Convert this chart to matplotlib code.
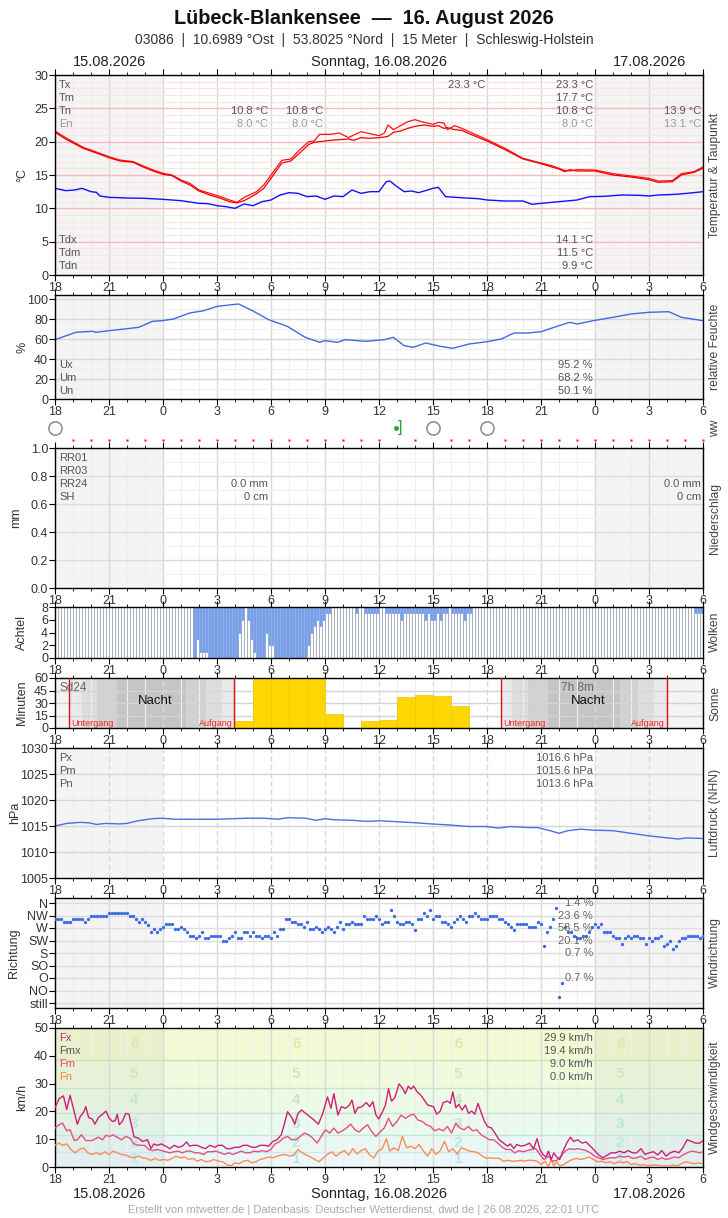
import numpy as np
import matplotlib.pyplot as plt
from matplotlib.ticker import MultipleLocator

plt.rcParams['font.family'] = ['Liberation Sans Narrow', 'Liberation Sans', 'DejaVu Sans']

W, H = 728, 1218

# x axis: hours since 15.08. 18:00 UTC
hour_labels = ['18', '21', '0', '3', '6', '9', '12', '15', '18', '21', '0', '3', '6']
day_shade = [(0, 6), (30, 36)]

# temperature (two red lines) and dew point
t_h = [0, 0.65, 1.57, 2.5, 3.0, 3.6, 4.35, 4.9, 5.46, 6.0, 6.5, 7.0, 7.5, 8.0, 8.6, 9.2, 9.7,
       10.1, 10.55, 11.2, 11.6, 12.0, 12.6, 13.1, 13.6, 14.1, 14.4, 14.7, 15.3, 15.8, 16.3, 16.6,
       17.0, 17.5, 18.0, 18.3, 18.5, 18.8, 19.2, 19.6, 20.0, 20.5, 21.0, 21.3, 21.6, 21.8, 22.2,
       22.6, 23.0, 24.0, 25.0, 26.0, 27.0, 27.6, 28.0, 28.3, 28.6, 29.0, 30.0, 31.0, 32.0, 33.0,
       33.5, 34.3, 34.8, 35.5, 36.0]
temp_a = [21.6, 20.5, 19.15, 18.25, 17.75, 17.25, 17.0, 16.35, 15.75, 15.25, 15.0, 14.25, 13.75,
          12.75, 12.25, 11.75, 11.25, 10.9, 11.7, 12.5, 13.5, 15.0, 17.2, 17.4, 18.8, 20.0, 20.1,
          21.1, 21.1, 21.3, 20.6, 21.0, 21.5, 21.2, 20.9, 21.3, 22.5, 21.8, 22.4, 23.0, 23.3, 22.9,
          22.6, 22.9, 22.8, 21.8, 22.4, 22.0, 21.5, 20.3, 19.0, 17.5, 16.8, 16.4, 16.0, 15.7, 15.6,
          15.8, 15.75, 15.2, 14.85, 14.5, 14.1, 14.15, 15.2, 15.5, 16.2]
temp_b = [21.4, 20.3, 19.0, 18.1, 17.6, 17.1, 16.9, 16.2, 15.6, 15.1, 14.9, 14.1, 13.5, 12.6,
          12.0, 11.5, 11.0, 10.8, 11.2, 12.2, 13.0, 14.5, 16.8, 17.1, 18.3, 19.6, 19.9, 20.0, 20.2,
          20.3, 20.4, 20.2, 20.6, 20.5, 20.6, 20.7, 20.8, 21.4, 21.6, 22.0, 22.3, 22.5, 22.3, 22.4,
          22.0, 22.1, 21.8, 21.7, 21.2, 20.1, 18.8, 17.4, 16.7, 16.2, 15.9, 15.5, 15.8, 15.6, 15.6,
          15.0, 14.7, 14.3, 13.9, 14.0, 15.0, 15.4, 16.0]
dew_h = [0, 0.6, 1.1, 1.5, 2.0, 2.3, 2.5, 3.0, 4.0, 5.0, 6.0, 7.0, 8.0, 8.5, 9.0, 9.5, 10.0, 10.5,
         11.0, 11.5, 12.0, 12.5, 13.0, 13.5, 14.0, 14.5, 15.0, 15.5, 16.0, 16.5, 17.0, 17.5, 18.0,
         18.4, 18.6, 19.0, 19.4, 19.8, 20.2, 20.7, 21.0, 21.3, 21.7, 22.5, 23.5, 24.0, 25.0, 26.0,
         26.5, 27.0, 28.0, 29.0, 29.7, 30.5, 31.5, 32.5, 33.0, 33.5, 34.5, 35.5, 36.0]
dew = [13.0, 12.65, 12.75, 13.0, 12.5, 12.4, 11.85, 11.65, 11.55, 11.5, 11.35, 11.15, 10.75, 10.7,
       10.4, 10.25, 10.0, 10.65, 10.4, 11.0, 11.25, 12.0, 12.35, 12.25, 11.75, 11.85, 11.35, 11.85,
       11.75, 12.75, 12.25, 12.5, 12.5, 14.0, 14.1, 13.25, 12.5, 12.6, 12.35, 12.75, 13.0, 13.15,
       11.75, 11.6, 11.45, 11.25, 11.1, 11.1, 10.6, 10.75, 11.0, 11.25, 11.75, 11.8, 12.0, 11.95,
       11.85, 12.0, 12.1, 12.35, 12.5]

# relative humidity
hum_h = [0, 1.16, 2.06, 2.3, 2.97, 3.87, 4.65, 5.42, 5.94, 6.58, 7.48, 8.26, 9.03, 10.2, 10.97,
         11.87, 12.9, 13.9, 14.7, 15.0, 15.7, 16.1, 17.3, 18.3, 18.8, 19.4, 19.9, 20.6, 21.4, 22.1,
         23.0, 24.0, 24.8, 25.5, 26.3, 27.0, 27.9, 28.6, 29.0, 29.9, 31.0, 32.0, 33.0, 34.1, 34.8, 36.0]
hum = [59.3, 66.7, 67.7, 66.7, 68.3, 70.0, 71.7, 77.7, 78.3, 80.0, 86.0, 88.3, 92.7, 95.0, 88.3,
       79.3, 72.7, 61.7, 56.7, 58.3, 56.7, 59.3, 57.7, 59.3, 61.7, 53.3, 51.7, 56.0, 52.7, 50.7,
       55.0, 57.3, 60.0, 66.0, 66.0, 67.3, 72.7, 76.7, 75.0, 78.3, 81.7, 85.0, 86.7, 87.3, 81.7, 78.3]

# ww row
ww_circle_h = [0, 21, 24]
ww_shower_h = [19]

# cloud cover (octas), every 10 minutes
cloud = [0, 0, 0, 0, 0, 0, 0, 0, 0, 0, 0, 0,
         0, 0, 0, 0, 0, 0, 0, 0, 0, 0, 0, 0,
         0, 0, 0, 0, 0, 0, 0, 0, 0, 0, 0, 0,
         0, 0, 0, 0, 0, 0, 0, 0, 0, 0, 8, 5,
         7, 7, 7, 8, 8, 8, 8, 8, 8, 8, 8, 8,
         8, 4, 2, 0, 2, 5, 7, 8, 8, 8, 4, 6,
         6, 8, 8, 8, 8, 8, 8, 8, 8, 8, 8, 8,
         6, 4, 3, 2, 3, 2, 1, 1, 0, 0, 0, 0,
         0, 0, 0, 0, 1, 0, 0, 1, 1, 1, 1, 1,
         0, 0, 1, 1, 1, 1, 1, 2, 1, 1, 1, 1,
         1, 1, 1, 2, 1, 2, 2, 1, 2, 1, 1, 0,
         1, 1, 1, 1, 2, 1, 1, 0, 0, 0, 0, 0,
         0, 0, 0, 0, 0, 0, 0, 0, 0, 0, 0, 0,
         0, 0, 0, 0, 0, 0, 0, 0, 0, 0, 0, 0,
         0, 0, 0, 0, 0, 0, 0, 0, 0, 0, 0, 0,
         0, 0, 0, 0, 0, 0, 0, 0, 0, 0, 0, 0,
         0, 0, 0, 0, 0, 0, 0, 0, 0, 0, 0, 0,
         0, 0, 0, 0, 0, 0, 0, 0, 0, 1, 1, 1]

# sunshine minutes per hour
sun_h = [10, 11, 12, 13, 14, 15, 16, 17, 18, 19, 20, 21, 22]
sun_min = [8, 60, 60, 60, 60, 17, 0, 9, 10, 37, 40, 39, 27]
night1 = [0.8, 1.5, 2.35, 3.43, 7.28, 8.4, 9.26, 9.96]
night2 = [24.8, 25.4, 26.3, 27.4, 31.4, 32.4, 33.3, 34.0]
night_grays = ['#e9e9e9', '#dddddd', '#d1d1d1', '#c5c5c5', '#d1d1d1', '#dddddd', '#e9e9e9']

# pressure
p_h = [0, 0.65, 1.4, 1.9, 2.3, 2.8, 3.6, 4.0, 4.6, 5.4, 5.9, 6.7, 8.0, 9.0, 9.8, 10.8, 11.6, 12.4,
       12.9, 13.9, 14.5, 15.0, 15.5, 16.5, 17.3, 18.1, 19.1, 20.1, 20.9, 21.9, 23.0, 24.0, 24.6,
       25.3, 26.3, 26.8, 27.5, 28.0, 28.5, 29.2, 29.9, 31.0, 32.0, 33.0, 33.8, 34.6, 35.1, 36.0]
pres = [1015.0, 1015.5, 1015.7, 1015.6, 1015.3, 1015.5, 1015.4, 1015.5, 1016.0, 1016.4, 1016.5,
        1016.3, 1016.3, 1016.3, 1016.4, 1016.5, 1016.5, 1016.3, 1016.6, 1016.5, 1016.1, 1016.4,
        1016.2, 1016.1, 1015.9, 1016.0, 1015.8, 1015.6, 1015.4, 1015.2, 1014.9, 1014.9, 1014.6,
        1014.9, 1014.7, 1014.7, 1014.1, 1013.6, 1014.1, 1014.4, 1014.2, 1014.1, 1013.6, 1013.1,
        1012.8, 1012.5, 1012.7, 1012.6]

# wind direction (degrees), every 10 minutes
wind_dir = [304, 304, 304, 293, 293, 293, 304, 304, 304, 304, 293, 304,
            314, 314, 314, 314, 314, 314, 325, 325, 325, 325, 325, 325,
            325, 314, 314, 304, 293, 304, 293, 282, 254, 265, 254, 265,
            275, 283, 283, 283, 265, 265, 274, 265, 254, 243, 243, 233,
            243, 254, 233, 233, 243, 243, 243, 243, 224, 224, 233, 243,
            254, 233, 233, 254, 254, 243, 254, 243, 243, 233, 243, 243,
            233, 254, 243, 265, 265, 304, 304, 293, 293, 283, 283, 274,
            293, 265, 265, 274, 265, 254, 265, 274, 265, 254, 274, 293,
            265, 283, 283, 293, 283, 283, 283, 314, 304, 304, 304, 314, 304,
            283, 293, 293, 336, 314, 293, 283, 283, 293, 293, 283, 263,
            304, 304, 325, 314, 336, 304, 314, 314, 293, 293, 283, 274,
            293, 304, 314, 304, 293, 314, 314, 325, 314, 304, 304, 304,
            314, 314, 314, 304, 304, 293, 283, 274, 263, 283, 283, 283,
            283, 274, 274, 274, 293, 283, 204, 254, 274, 304, 343, 23,
            72, 274, 254, 254, 243, 233, 233, 243, 243, 254, 274, 283,
            274, 283, 254, 254, 254, 243, 233, 233, 214, 233, 243, 233,
            243, 243, 233, 233, 214, 233, 224, 233, 233, 243, 204, 214,
            224, 193, 204, 224, 233, 233, 243, 243, 243, 243, 233, 243]
dir_ticks = [360, 315, 270, 225, 180, 135, 90, 45, 0]
dir_labels = ['N', 'NW', 'W', 'SW', 'S', 'SO', 'O', 'NO', 'still']

# wind speed km/h
fx_h = [0.00, 0.23, 0.47, 0.65, 0.84, 1.07, 1.24, 1.40, 1.59, 1.71,
        1.87, 2.06, 2.22, 2.41, 2.64, 2.83, 2.99, 3.18, 3.34, 3.46,
        3.57, 3.74, 3.93, 4.11, 4.28, 4.39, 4.63, 4.86, 5.14, 5.33,
        5.49, 5.68, 5.91, 6.14, 6.38, 6.61, 6.85, 7.08, 7.31, 7.48,
        7.66, 7.90, 8.13, 8.36, 8.60, 8.88, 9.07, 9.30, 9.53, 9.77,
        10.00, 10.23, 10.47, 10.70, 10.93, 11.17, 11.40, 11.64, 11.87, 12.10,
        12.34, 12.57, 12.73, 12.92, 13.15, 13.32, 13.50, 13.69, 13.93, 14.16,
        14.39, 14.63, 14.86, 15.02, 15.14, 15.33, 15.49, 15.72, 15.91, 16.14,
        16.36, 16.50, 16.66, 16.82, 17.06, 17.29, 17.48, 17.66, 17.83, 17.99,
        18.18, 18.36, 18.53, 18.69, 18.88, 19.11, 19.30, 19.46, 19.63, 19.77,
        19.93, 20.12, 20.33, 20.51, 20.70, 20.86, 21.03, 21.21, 21.40, 21.57,
        21.80, 21.96, 22.10, 22.27, 22.43, 22.62, 22.80, 22.97, 23.15, 23.32,
        23.50, 23.67, 23.86, 24.02, 24.25, 24.44, 24.67, 24.91, 25.14, 25.30,
        25.49, 25.65, 25.89, 26.12, 26.36, 26.59, 26.78, 26.94, 27.10, 27.29,
        27.41, 27.57, 27.71, 27.87, 28.04, 28.22, 28.46, 28.64, 28.81, 29.04,
        29.28, 29.51, 29.74, 29.98, 30.21, 30.44, 30.68, 30.91, 31.14, 31.38,
        31.61, 31.85, 32.08, 32.31, 32.55, 32.78, 33.01, 33.25, 33.48, 33.71,
        33.95, 34.18, 34.42, 34.65, 34.88, 35.12, 35.35, 35.58, 35.82, 36.00]
fx = [21.3, 24.6, 25.6, 20.7, 25.8, 19.9, 15.4, 18.1, 19.7, 21.7,
      17.8, 17.3, 15.4, 17.8, 19.0, 20.1, 17.8, 16.4, 16.6, 19.0,
      15.2, 16.4, 19.3, 19.0, 14.0, 10.9, 10.4, 9.2, 9.8, 6.6,
      8.3, 7.8, 8.3, 7.5, 6.6, 7.8, 7.1, 7.5, 9.0, 7.5,
      7.8, 7.8, 7.1, 6.6, 7.8, 7.1, 7.8, 7.8, 6.6, 6.6,
      7.1, 7.1, 7.8, 7.8, 7.1, 7.1, 7.8, 7.8, 7.5, 9.2,
      9.8, 11.6, 15.2, 19.9, 17.8, 15.4, 19.3, 20.5, 19.3, 18.1,
      16.9, 15.4, 19.0, 22.5, 25.2, 21.1, 26.4, 18.7, 21.7, 21.1,
      22.3, 24.1, 19.3, 21.3, 21.7, 23.2, 21.7, 23.5, 18.7, 17.3,
      19.7, 22.3, 28.2, 23.7, 24.9, 29.9, 28.4, 26.4, 29.1, 28.0,
      29.1, 27.0, 25.8, 24.1, 22.3, 22.0, 21.7, 19.0, 20.1, 23.2,
      23.7, 22.9, 27.0, 21.3, 22.5, 20.5, 22.3, 19.3, 20.1, 19.0,
      22.9, 19.7, 16.4, 14.6, 14.0, 12.2, 9.8, 8.6, 7.5, 8.3,
      6.6, 8.1, 7.5, 7.8, 8.6, 6.6, 10.2, 6.3, 4.5, 3.6,
      5.7, 2.7, 5.1, 3.6, 2.7, 5.7, 9.0, 10.7, 9.2, 9.8,
      8.6, 9.0, 7.5, 5.9, 4.3, 3.3, 4.3, 5.1, 5.1, 5.7,
      5.1, 5.9, 5.1, 5.1, 6.6, 4.5, 5.1, 5.5, 4.3, 5.9,
      3.9, 5.1, 5.7, 5.1, 6.9, 9.8, 9.2, 8.6, 8.6, 9.5]
fm_h = [0.00, 0.23, 0.42, 0.65, 0.84, 1.07, 1.24, 1.47, 1.71, 2.06,
        2.41, 2.64, 2.83, 3.04, 3.22, 3.46, 3.69, 3.93, 4.16, 4.39,
        4.67, 4.98, 5.21, 5.44, 5.68, 5.91, 6.14, 6.38, 6.61, 6.85,
        7.08, 7.31, 7.55, 7.78, 8.01, 8.25, 8.48, 8.71, 8.95, 9.18,
        9.42, 9.65, 9.88, 10.12, 10.35, 10.58, 10.82, 11.05, 11.29, 11.52,
        11.75, 11.99, 12.22, 12.45, 12.69, 12.92, 13.15, 13.39, 13.62, 13.86,
        14.09, 14.32, 14.56, 14.79, 15.02, 15.26, 15.49, 15.72, 15.96, 16.19,
        16.43, 16.66, 16.89, 17.13, 17.36, 17.59, 17.83, 18.06, 18.29, 18.53,
        18.76, 19.00, 19.23, 19.46, 19.70, 19.93, 20.16, 20.40, 20.63, 20.86,
        21.10, 21.33, 21.57, 21.80, 22.03, 22.27, 22.50, 22.73, 22.97, 23.20,
        23.43, 23.67, 23.90, 24.14, 24.37, 24.60, 24.84, 25.07, 25.30, 25.54,
        25.77, 26.00, 26.24, 26.47, 26.71, 26.94, 27.17, 27.41, 27.64, 27.87,
        28.11, 28.34, 28.57, 28.81, 29.04, 29.28, 29.51, 29.74, 29.98, 30.21,
        30.44, 30.68, 30.91, 31.14, 31.38, 31.61, 31.85, 32.08, 32.31, 32.55,
        32.78, 33.01, 33.25, 33.48, 33.71, 33.95, 34.18, 34.42, 34.65, 34.88,
        35.12, 35.35, 35.58, 35.82, 36.00]
fm = [14.0, 15.2, 15.8, 13.0, 13.4, 9.5, 9.8, 11.6, 9.5, 9.5,
      10.7, 9.8, 11.4, 11.0, 11.6, 10.7, 9.8, 11.0, 10.4, 8.3,
      7.8, 7.8, 6.3, 5.9, 6.3, 5.9, 5.5, 5.1, 5.5, 5.7,
      5.1, 5.7, 5.7, 5.1, 5.1, 4.5, 5.5, 5.5, 5.7, 5.1,
      4.5, 5.1, 4.5, 5.1, 5.7, 5.1, 5.1, 5.7, 5.5, 5.9,
      5.5, 6.3, 8.3, 9.0, 10.4, 11.0, 9.8, 9.8, 11.0, 12.2,
      11.6, 10.4, 8.6, 11.0, 13.4, 12.2, 14.0, 12.2, 13.0, 14.0,
      15.4, 13.4, 12.6, 14.0, 15.2, 12.8, 11.0, 12.6, 14.0, 17.5,
      14.6, 16.4, 18.7, 17.5, 18.5, 19.0, 16.9, 16.4, 15.2, 14.6,
      13.0, 13.7, 13.0, 14.6, 12.2, 15.8, 14.0, 13.4, 14.6, 13.0,
      13.4, 11.6, 10.7, 9.8, 9.8, 8.6, 7.1, 6.3, 6.3, 5.1,
      5.9, 5.5, 5.9, 6.3, 6.6, 4.5, 2.7, 3.9, 2.1, 2.4,
      3.9, 5.7, 6.6, 6.3, 6.6, 6.3, 5.9, 5.1, 3.9, 3.3,
      2.7, 3.1, 3.3, 3.3, 3.9, 3.6, 3.9, 3.1, 3.3, 3.9,
      2.7, 3.3, 3.6, 2.7, 3.3, 2.7, 3.1, 3.6, 3.3, 4.3,
      5.1, 5.7, 5.5, 5.1, 5.5]
fn_h = [0.00, 0.23, 0.42,
        0.65, 0.89, 1.12, 1.36, 1.59, 1.82, 2.06, 2.29, 2.52, 2.76,
        2.99, 3.22, 3.46, 3.69, 3.93, 4.16, 4.39, 4.63, 4.86, 5.09,
        5.33, 5.56, 5.79, 6.03, 6.26, 6.50, 6.73, 6.96, 7.20, 7.43,
        7.66, 7.90, 8.13, 8.36, 8.60, 8.83, 9.07, 9.30, 9.53, 9.77,
        10.00, 10.23, 10.47, 10.70, 10.93, 11.17, 11.40, 11.64, 11.87, 12.10,
        12.34, 12.57, 12.80, 13.04, 13.27, 13.50, 13.74, 13.97, 14.21, 14.44,
        14.67, 14.91, 15.14, 15.37, 15.61, 15.84, 16.07, 16.31, 16.54, 16.78,
        17.01, 17.24, 17.48, 17.71, 17.94, 18.18, 18.41,
        18.60, 18.83, 19.07, 19.30, 19.53, 19.77, 20.00, 20.23, 20.47, 20.70,
        20.93, 21.17, 21.40, 21.64, 21.87, 22.10, 22.34, 22.57, 22.80, 23.04,
        23.27, 23.50, 23.74, 23.97, 24.21, 24.44, 24.67, 24.91, 25.14, 25.37,
        25.61, 25.84, 26.07, 26.31, 26.54, 26.78, 27.01, 27.24,
        27.41, 27.57, 27.71, 27.87, 28.04,
        28.27, 28.50, 28.74, 28.97, 29.21, 29.44, 29.67, 29.91, 30.14, 30.37,
        30.61, 30.84, 31.07, 31.31, 31.54, 31.78, 32.01, 32.24, 32.48, 32.71,
        32.94, 33.18, 33.41, 33.64, 33.88, 34.11, 34.35, 34.58, 34.81, 35.05,
        35.28, 35.51, 35.75,
        36.00]
fn = [7.8, 8.6, 7.8,
      8.3, 6.3, 5.1, 6.3, 6.9, 5.1, 4.5, 5.1, 4.5, 5.5,
      4.5, 5.7, 5.1, 4.5, 4.3, 3.6, 3.3, 3.9, 3.3, 3.1,
      2.4, 3.1, 2.4, 2.7, 2.4, 3.1, 3.9, 3.3, 3.6, 2.7,
      3.1, 2.1, 2.7, 1.9, 2.1, 2.7, 2.1, 1.9, 0.9, 0.4,
      1.5, 1.2, 2.1, 2.4, 1.5, 1.9, 2.7, 3.1, 3.6, 3.3,
      3.9, 4.3, 4.5, 3.9, 4.3, 6.3, 5.1, 4.3, 3.6, 2.7,
      1.9, 3.3, 4.5, 5.5, 3.9, 5.1, 5.9, 4.3, 6.6, 4.7,
      5.9, 6.6, 4.3, 3.3, 5.7, 6.6, 10.2,
      5.7, 6.9, 5.9, 11.0, 6.9, 7.5, 6.6, 8.1, 5.7, 3.9,
      6.6, 4.5, 5.9, 9.2, 5.5, 6.6, 4.7, 6.9, 6.3, 5.7,
      5.5, 5.1, 3.9, 3.1, 3.3, 3.1, 3.1, 2.1, 2.4, 2.1,
      2.1, 2.4, 2.1, 2.4, 2.4, 2.1, 0.9, 2.1,
      0.0, 2.7, 0.4, 1.9, 0.4,
      0.9, 1.9, 2.7, 3.1, 2.7, 3.1, 3.6, 2.7, 1.9, 2.1,
      1.5, 1.9, 1.2, 1.9, 1.5, 1.9, 0.9, 1.2, 0.7, 0.9,
      0.4, 0.7, 0.7, 0.4, 0.4, 0.4, 0.7, 0.4, 1.2, 1.9,
      1.5, 1.2, 1.5,
      1.2]
bft_edges = [0, 0.5, 5.5, 11.5, 19.5, 28.5, 38.5, 50]
bft_fill = ['#eef6f9', '#ecf7f9', '#eaf8f4', '#ebf9ee', '#edfae6', '#f0fadd', '#f2fad3']
bft_line = ['#c9e9ef', '#bfe6e6', '#c2e6cf', '#c8e3c6', '#cddfba']
bft_text = ['#b9e6ee', '#b9e8df', '#bde8d0', '#c3e8c3', '#cfe9b8', '#dbe8b0']
bft_label_h = [4.4, 13.4, 22.4, 31.4]

fig = plt.figure(figsize=(W / 100, H / 100), dpi=100)


def panel(top, bottom):
    return fig.add_axes([55 / W, 1 - bottom / H, 648 / W, (bottom - top) / H])


def ftext(x, y, s, **kw):
    kw.setdefault('va', 'center')
    kw.setdefault('fontsize', 8)
    kw.setdefault('color', '#555555')
    fig.text(x / W, 1 - y / H, s, **kw)


def base(ax, shade=True, vdash=False):
    ax.set_xlim(0, 36)
    ax.set_xticks(range(0, 37, 3))
    ax.set_xticklabels(hour_labels)
    ax.xaxis.set_minor_locator(MultipleLocator(1))
    ax.tick_params(axis='x', which='both', top=True, direction='out', labelsize=9,
                   labelcolor='#333333', pad=1)
    ax.tick_params(axis='x', which='major', length=4)
    ax.tick_params(axis='x', which='minor', length=2.5)
    ax.tick_params(axis='y', which='major', length=4, labelsize=9, labelcolor='#333333', pad=1)
    ax.tick_params(axis='y', which='minor', length=0)
    for sp in ax.spines.values():
        sp.set_linewidth(1)
    ax.set_axisbelow(True)
    ax.xaxis.grid(True, which='major', color='#d9d9d9', lw=1, ls=(0, (4, 2)) if vdash else '-')
    ax.xaxis.grid(True, which='minor', color='#efefef', lw=0.8)
    if shade:
        for a, b in day_shade:
            ax.axvspan(a, b, color='#f4f4f4', zorder=0, lw=0)


# ---------- temperature
ax = panel(75, 275)
base(ax)
ax.set_ylim(0, 30)
ax.set_yticks(range(0, 31, 5))
ax.yaxis.set_minor_locator(MultipleLocator(1))
ax.yaxis.grid(True, which='major', color='#f6bcbc', lw=1)
ax.yaxis.grid(True, which='minor', color='#fbe4e4', lw=0.8)
ax.plot(t_h, temp_a, color='#ff1010', lw=0.9)
ax.plot(t_h, temp_b, color='#ee0000', lw=0.9)
ax.plot(dew_h, dew, color='#1010ff', lw=1)
for y, s, c in [(85, 'Tx', '#555555'), (98, 'Tm', '#555555'), (111, 'Tn', '#555555'),
                (124, 'En', '#999999'), (240, 'Tdx', '#555555'), (253, 'Tdm', '#555555'),
                (266, 'Tdn', '#555555')]:
    ftext(59, y, s, color=c)
for x, y, s, c in [(268, 111, '10.8 °C', '#555555'), (268, 124, '8.0 °C', '#999999'),
                   (323, 111, '10.8 °C', '#555555'), (323, 124, '8.0 °C', '#999999'),
                   (485, 85, '23.3 °C', '#555555'),
                   (593, 85, '23.3 °C', '#555555'), (593, 98, '17.7 °C', '#555555'),
                   (593, 111, '10.8 °C', '#555555'), (593, 124, '8.0 °C', '#999999'),
                   (701, 111, '13.9 °C', '#555555'), (701, 124, '13.1 °C', '#999999'),
                   (593, 240, '14.1 °C', '#555555'), (593, 253, '11.5 °C', '#555555'),
                   (593, 266, '9.9 °C', '#555555')]:
    ftext(x, y, s, color=c, ha='right')

# ---------- humidity
ax = panel(295, 399)
base(ax)
ax.set_ylim(0, 104)
ax.set_yticks(range(0, 101, 20))
ax.yaxis.set_minor_locator(MultipleLocator(10))
ax.yaxis.grid(True, which='major', color='#d8d8d8', lw=1)
ax.yaxis.grid(True, which='minor', color='#efefef', lw=0.8)
ax.plot(hum_h, hum, color='#4169e1', lw=1)
for y, s in [(365, 'Ux'), (378, 'Um'), (391, 'Un')]:
    ftext(59, y, s)
for y, s in [(365, '95.2 %'), (378, '68.2 %'), (391, '50.1 %')]:
    ftext(593, y, s, ha='right')

# ---------- ww row
ax = panel(415, 445)
ax.set_xlim(0, 36)
ax.set_ylim(0, 1)
ax.axis('off')
symbol_h = ww_circle_h + ww_shower_h
dot_h = [h for h in range(1, 37) if h not in symbol_h]
ax.plot(dot_h, [0.17] * len(dot_h), 's', ms=2, color='#ff0000', mec='none', clip_on=False)
ax.plot(ww_circle_h, [0.57] * len(ww_circle_h), 'o', ms=9.5, mfc='none', mec='#8a8a8a',
        mew=1.1, clip_on=False)
for h in ww_shower_h:
    ax.plot([h - 0.06], [0.57], 'o', ms=3.5, color='#22aa22', mec='none', clip_on=False)
    ax.text(h + 0.17, 0.57, ']', color='#22aa22', fontsize=12, ha='center', va='center',
            family=['Liberation Sans', 'DejaVu Sans'])

# ---------- precipitation
ax = panel(448, 588)
base(ax)
ax.set_ylim(0, 1)
ax.set_yticks(np.arange(0, 1.01, 0.2))
ax.set_yticklabels(['0.0', '0.2', '0.4', '0.6', '0.8', '1.0'])
ax.yaxis.set_minor_locator(MultipleLocator(0.1))
ax.yaxis.grid(True, which='major', color='#dcdcdc', lw=1)
ax.yaxis.grid(True, which='minor', color='#f0f0f0', lw=0.8)
for y, s in [(458, 'RR01'), (471, 'RR03'), (484, 'RR24'), (497, 'SH')]:
    ftext(59, y, s)
for x in (268, 701):
    ftext(x, 484, '0.0 mm', ha='right')
    ftext(x, 497, '0 cm', ha='right')

# ---------- clouds
ax = panel(607, 658)
base(ax, shade=False)
ax.set_ylim(0, 8)
ax.set_yticks([0, 2, 4, 6, 8])
cloud = np.array(cloud)
cloud_t = np.arange(len(cloud)) / 6
clear = 8 - cloud
ax.bar(cloud_t, clear, width=1 / 6, align='edge', color='white', edgecolor='#a9b1be', lw=0.7,
       zorder=2)
m = cloud > 0
ax.bar(cloud_t[m], cloud[m], width=1 / 6, align='edge', bottom=clear[m], color='#7b9fe6',
       edgecolor='#8eaeec', lw=0.6, zorder=2)

# ---------- sunshine
ax = panel(678, 728)
base(ax, vdash=True)
ax.set_ylim(0, 60)
ax.set_yticks([0, 15, 30, 45, 60])
ax.yaxis.grid(True, which='major', color='#d4d4d4', lw=1)
for edges in (night1, night2):
    for a, b, c in zip(edges[:-1], edges[1:], night_grays):
        ax.axvspan(a, b, color=c, zorder=0.1, lw=0)
    ax.axvline(edges[0], color='#e01010', lw=1, zorder=3)
    ax.axvline(edges[-1], color='#e01010', lw=1, zorder=3)
    ax.text(edges[0] + 0.1, 6, 'Untergang', color='#ee2222', fontsize=6.5, ha='left',
            va='center', zorder=4)
    ax.text(edges[-1] - 0.1, 6, 'Aufgang', color='#ee2222', fontsize=6.5, ha='right',
            va='center', zorder=4)
    ax.text((edges[0] + edges[-1]) / 2 + 0.2, 32, 'Nacht', color='#111111', fontsize=9.5,
            ha='center', va='center', zorder=4)
ax.bar(sun_h, sun_min, width=1, align='edge', color='#ffd700', edgecolor='#efc600', lw=0.5,
       zorder=2)
ftext(59, 688, 'Sd24', fontsize=8.5, color='#666666')
ftext(577, 688, '7h 8m', fontsize=8.5, color='#666666', ha='center')

# ---------- pressure
ax = panel(748, 878)
base(ax, vdash=True)
ax.set_ylim(1005, 1030)
ax.set_yticks(range(1005, 1031, 5))
ax.yaxis.grid(True, which='major', color='#d6d6d6', lw=1)
ax.plot(p_h, pres, color='#4a70e2', lw=1)
for y, s in [(758, 'Px'), (771, 'Pm'), (784, 'Pn')]:
    ftext(59, y, s)
for y, s in [(758, '1016.6 hPa'), (771, '1015.6 hPa'), (784, '1013.6 hPa')]:
    ftext(593, y, s, ha='right')

# ---------- wind direction
ax = panel(898, 1008)
base(ax)
ax.set_ylim(-18, 378)
ax.set_yticks(dir_ticks)
ax.set_yticklabels(dir_labels)
ax.yaxis.grid(True, which='major', color='#dddddd', lw=1)
dir_t = np.arange(len(wind_dir)) / 6
ax.plot(dir_t, wind_dir, 'o', ms=2.4, color='#3c69e4', mec='none', zorder=3)
for y, s in [(903, '1.4 %'), (916, '23.6 %'), (928, '58.5 %'), (941, '20.1 %'),
             (953, '0.7 %'), (978, '0.7 %')]:
    ftext(593, y, s, ha='right', color='#666666')

# ---------- wind speed
ax = panel(1028, 1167)
base(ax, shade=False)
ax.set_ylim(0, 50)
ax.set_yticks(range(0, 51, 10))
for a, b, c in zip(bft_edges[:-1], bft_edges[1:], bft_fill):
    ax.axhspan(a, b, color=c, zorder=0, lw=0)
for y, c in zip(bft_edges[2:-1], bft_line):
    ax.axhline(y, color=c, lw=1, zorder=0.6)
for a, b in day_shade:
    ax.axvspan(a, b, color='#000000', alpha=0.035, zorder=0.2, lw=0)
for i, c in enumerate(bft_text):
    yc = (bft_edges[i + 1] + bft_edges[i + 2]) / 2
    for h in bft_label_h:
        ax.text(h, yc, str(i + 1), color=c, fontsize=11, fontweight='bold', ha='center',
                va='center', zorder=0.7)
ax.plot(fn_h, fn, color='#ff8a55', lw=1, zorder=3)
ax.plot(fm_h, fm, color='#e6507a', lw=1, zorder=3)
ax.plot(fx_h, fx, color='#cf1f78', lw=1, zorder=3)
for y, s, c in [(1038, 'Fx', '#d6247a'), (1051, 'Fmx', '#555555'), (1064, 'Fm', '#f04868'),
                (1077, 'Fn', '#ff8040')]:
    ftext(59, y, s, color=c)
for y, s in [(1038, '29.9 km/h'), (1051, '19.4 km/h'), (1064, '9.0 km/h'), (1077, '0.0 km/h')]:
    ftext(593, y, s, ha='right')

# ---------- axis titles
for x, y, s in [(22, 175, '°C'), (22, 347, '%'), (16, 518, 'mm'), (22, 632, 'Achtel'),
                (22, 703, 'Minuten'), (15, 813, 'hPa'), (14, 953, 'Richtung'), (22, 1097, 'km/h')]:
    ftext(x, y, s, rotation=90, ha='center', fontsize=9, color='#333333')
for y, s in [(175, 'Temperatur & Taupunkt'), (347, 'relative Feuchte'), (428, 'ww'),
             (518, 'Niederschlag'), (632, 'Wolken'), (703, 'Sonne'), (813, 'Luftdruck (NHN)'),
             (953, 'Windrichtung'), (1097, 'Windgeschwindigkeit')]:
    ftext(715, y, s, rotation=90, ha='center', fontsize=8.7, color='#444444')

# ---------- header / footer
ftext(364, 18, 'Lübeck-Blankensee  —  16. August 2026', ha='center', fontsize=14.3,
      fontweight='bold', color='#111111')
ftext(364, 40, '03086  |  10.6989 °Ost  |  53.8025 °Nord  |  15 Meter  |  Schleswig-Holstein',
      ha='center', fontsize=10, color='#333333')
for y in (62, 1194):
    ftext(109, y, '15.08.2026', ha='center', fontsize=10.5, color='#222222')
    ftext(379, y, 'Sonntag, 16.08.2026', ha='center', fontsize=10.5, color='#222222')
    ftext(649, y, '17.08.2026', ha='center', fontsize=10.5, color='#222222')
ftext(364, 1210, 'Erstellt von mtwetter.de | Datenbasis: Deutscher Wetterdienst, dwd.de | '
      '26.08.2026, 22:01 UTC', ha='center', fontsize=8, color='#aaaaaa')

fig.savefig('out.png', dpi=100)
